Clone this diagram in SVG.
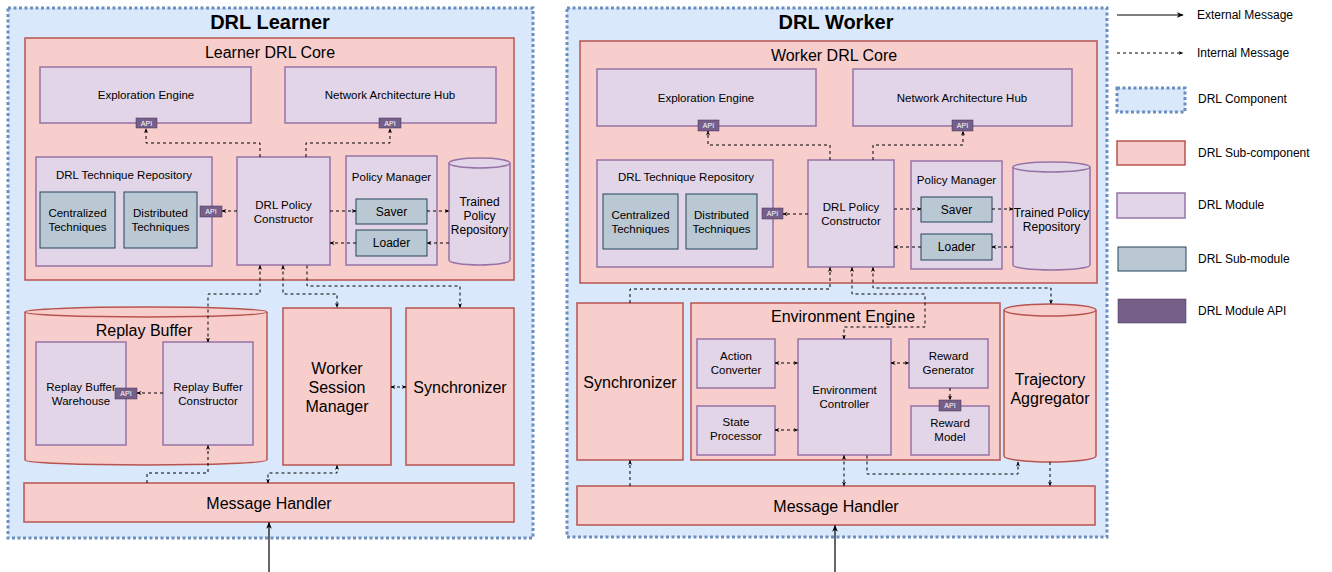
<svg xmlns="http://www.w3.org/2000/svg" width="1332" height="572" viewBox="0 0 1332 572">
<defs>
<style>
.comp{fill:#dae8fc;stroke:#6c8ebf;stroke-width:3;stroke-dasharray:3 2.5}
.sub{fill:#f8cecc;stroke:#b85450;stroke-width:1.5}
.mod{fill:#e1d5e7;stroke:#9673a6;stroke-width:1.5}
.smod{fill:#bac8d3;stroke:#23445d;stroke-width:1}
.api{fill:#76608a;stroke:#432d57;stroke-width:0.5}
text{font-family:"Liberation Sans",Arial,Helvetica,sans-serif;fill:#000;text-anchor:middle;dominant-baseline:central}
.h1{font-size:20px;font-weight:bold}
.h2{font-size:16px}
.m{font-size:11.5px}
.s{font-size:12px}
.at{font-size:7px;fill:#fff}
.lg{font-size:12px;text-anchor:start}
.int{fill:none;stroke:#000;stroke-width:1;stroke-dasharray:3 3;marker-end:url(#ah)}
.both{marker-start:url(#ah)}
.ext{fill:none;stroke:#000;stroke-width:1.2;marker-end:url(#ahx)}
</style>
<marker id="ah" viewBox="0 0 10 10" refX="9" refY="5" markerWidth="5" markerHeight="5" markerUnits="userSpaceOnUse" orient="auto-start-reverse"><path d="M0,1 L10,5 L0,9 L3,5 z" fill="#000"/></marker>
<marker id="ahx" viewBox="0 0 10 10" refX="9" refY="5" markerWidth="7" markerHeight="7" markerUnits="userSpaceOnUse" orient="auto"><path d="M0,1 L10,5 L0,9 L3,5 z" fill="#000"/></marker>
</defs>

<!-- ===== DRL Learner ===== -->
<g id="drl-learner">
<rect class="comp" x="8" y="8" width="525" height="530"/>
<text class="h1" x="270" y="22">DRL Learner</text>
</g>
<g id="learner-core">
<rect class="sub" x="25" y="38" width="489" height="242"/>
<text class="h2" x="270" y="52">Learner DRL Core</text>
</g>
<g id="l-exploration">
<rect class="mod" x="40" y="67" width="211" height="56"/>
<text class="m" x="146" y="95">Exploration Engine</text>
<rect class="api" x="136" y="118" width="21" height="10"/>
<text class="at" x="146.5" y="123">API</text>
</g>
<g id="l-nah">
<rect class="mod" x="285" y="67" width="211" height="56"/>
<text class="m" x="390" y="95">Network Architecture Hub</text>
<rect class="api" x="379" y="118" width="22" height="10"/>
<text class="at" x="390" y="123">API</text>
</g>
<g id="l-tech">
<rect class="mod" x="36" y="157" width="176" height="109"/>
<text class="m" x="124" y="175">DRL Technique Repository</text>
<rect class="smod" x="40" y="192" width="75" height="56"/>
<text class="m" x="77.5" y="213">Centralized</text>
<text class="m" x="77.5" y="227">Techniques</text>
<rect class="smod" x="124" y="192" width="73" height="56"/>
<text class="m" x="160.5" y="213">Distributed</text>
<text class="m" x="160.5" y="227">Techniques</text>
<rect class="api" x="200" y="206" width="22" height="11"/>
<text class="at" x="211" y="211.5">API</text>
</g>
<g id="l-constructor">
<rect class="mod" x="237" y="157" width="93" height="108"/>
<text class="m" x="283.5" y="205">DRL Policy</text>
<text class="m" x="283.5" y="219">Constructor</text>
</g>
<g id="l-policy-manager">
<rect class="mod" x="346" y="156" width="91" height="109"/>
<text class="m" x="391.5" y="177">Policy Manager</text>
<rect class="smod" x="356" y="199" width="71" height="25"/>
<text class="s" x="391.5" y="211.5">Saver</text>
<rect class="smod" x="356" y="230" width="71" height="26"/>
<text class="s" x="391.5" y="243">Loader</text>
</g>
<g id="l-trained">
<path class="mod" d="M449,163 A30.5,5 0 0 1 510,163 V260 A30.5,5 0 0 1 449,260 Z"/>
<path class="mod" style="fill:none" d="M449,163 A30.5,5 0 0 0 510,163"/>
<text class="s" x="479.5" y="202">Trained</text>
<text class="s" x="479.5" y="216">Policy</text>
<text class="s" x="479.5" y="230">Repository</text>
</g>
<g id="l-replay">
<path class="sub" d="M25,312 A121,5 0 0 1 267,312 V460 A121,5 0 0 1 25,460 Z"/>
<path class="sub" style="fill:none" d="M25,312 A121,5 0 0 0 267,312"/>
<text class="h2" x="144" y="330">Replay Buffer</text>
</g>
<g id="l-rb-warehouse">
<rect class="mod" x="36" y="342" width="90" height="103"/>
<text class="m" x="81" y="387">Replay Buffer</text>
<text class="m" x="81" y="401">Warehouse</text>
<rect class="api" x="115" y="388" width="22" height="11"/>
<text class="at" x="126" y="393.5">API</text>
</g>
<g id="l-rb-constructor">
<rect class="mod" x="163" y="342" width="90" height="103"/>
<text class="m" x="208" y="387">Replay Buffer</text>
<text class="m" x="208" y="401">Constructor</text>
</g>
<g id="l-wsm">
<rect class="sub" x="283" y="308" width="108" height="157"/>
<text class="h2" x="337" y="368">Worker</text>
<text class="h2" x="337" y="387">Session</text>
<text class="h2" x="337" y="406">Manager</text>
</g>
<g id="l-sync">
<rect class="sub" x="406" y="308" width="108" height="157"/>
<text class="h2" x="460" y="387">Synchronizer</text>
</g>
<g id="l-msg">
<rect class="sub" x="24" y="483" width="490" height="39"/>
<text class="h2" x="269" y="503">Message Handler</text>
</g>

<!-- ===== DRL Worker ===== -->
<g id="drl-worker">
<rect class="comp" x="567" y="8" width="540" height="529"/>
<text class="h1" x="836" y="22">DRL Worker</text>
</g>
<g id="worker-core">
<rect class="sub" x="580" y="41" width="517" height="242"/>
<text class="h2" x="834" y="55">Worker DRL Core</text>
</g>
<g id="w-exploration">
<rect class="mod" x="597" y="69" width="219" height="57"/>
<text class="m" x="706" y="98">Exploration Engine</text>
<rect class="api" x="698" y="120" width="21" height="11"/>
<text class="at" x="708.5" y="125.5">API</text>
</g>
<g id="w-nah">
<rect class="mod" x="853" y="69" width="219" height="57"/>
<text class="m" x="962" y="98">Network Architecture Hub</text>
<rect class="api" x="952" y="120" width="21" height="11"/>
<text class="at" x="962.5" y="125.5">API</text>
</g>
<g id="w-tech">
<rect class="mod" x="597" y="160" width="176" height="107"/>
<text class="m" x="686" y="177">DRL Technique Repository</text>
<rect class="smod" x="603" y="194" width="75" height="55"/>
<text class="m" x="640.5" y="215">Centralized</text>
<text class="m" x="640.5" y="229">Techniques</text>
<rect class="smod" x="686" y="194" width="71" height="55"/>
<text class="m" x="721.5" y="215">Distributed</text>
<text class="m" x="721.5" y="229">Techniques</text>
<rect class="api" x="762" y="208" width="21" height="11"/>
<text class="at" x="772.5" y="213.5">API</text>
</g>
<g id="w-constructor">
<rect class="mod" x="808" y="160" width="86" height="107"/>
<text class="m" x="851" y="207">DRL Policy</text>
<text class="m" x="851" y="221">Constructor</text>
</g>
<g id="w-policy-manager">
<rect class="mod" x="911" y="161" width="91" height="108"/>
<text class="m" x="956.5" y="180">Policy Manager</text>
<rect class="smod" x="921" y="197" width="71" height="25"/>
<text class="s" x="956.5" y="209.5">Saver</text>
<rect class="smod" x="921" y="234" width="71" height="26"/>
<text class="s" x="956.5" y="247">Loader</text>
</g>
<g id="w-trained">
<path class="mod" d="M1013,167 A38.5,5 0 0 1 1090,167 V265 A38.5,5 0 0 1 1013,265 Z"/>
<path class="mod" style="fill:none" d="M1013,167 A38.5,5 0 0 0 1090,167"/>
<text class="s" x="1051.5" y="213">Trained Policy</text>
<text class="s" x="1051.5" y="227">Repository</text>
</g>
<g id="w-sync">
<rect class="sub" x="577" y="303" width="106" height="157"/>
<text class="h2" x="630" y="382">Synchronizer</text>
</g>
<g id="w-env-engine">
<rect class="sub" x="691" y="303" width="309" height="157"/>
<text class="h2" x="843" y="316">Environment Engine</text>
</g>
<g id="w-action">
<rect class="mod" x="697" y="339" width="78" height="49"/>
<text class="m" x="736" y="356">Action</text>
<text class="m" x="736" y="370">Converter</text>
</g>
<g id="w-state">
<rect class="mod" x="697" y="406" width="78" height="49"/>
<text class="m" x="736" y="422">State</text>
<text class="m" x="736" y="436">Processor</text>
</g>
<g id="w-env-controller">
<rect class="mod" x="798" y="339" width="93" height="116"/>
<text class="m" x="844.5" y="390">Environment</text>
<text class="m" x="844.5" y="404">Controller</text>
</g>
<g id="w-reward-gen">
<rect class="mod" x="909" y="339" width="79" height="49"/>
<text class="m" x="948.5" y="356">Reward</text>
<text class="m" x="948.5" y="370">Generator</text>
</g>
<g id="w-reward-model">
<rect class="mod" x="911" y="406" width="78" height="49"/>
<text class="m" x="950" y="423">Reward</text>
<text class="m" x="950" y="437">Model</text>
<rect class="api" x="939" y="400" width="22" height="11"/>
<text class="at" x="950" y="405.5">API</text>
</g>
<g id="w-trajectory">
<path class="sub" d="M1004,310 A46,6 0 0 1 1096,310 V456 A46,6 0 0 1 1004,456 Z"/>
<path class="sub" style="fill:none" d="M1004,310 A46,6 0 0 0 1096,310"/>
<text class="h2" x="1050" y="379">Trajectory</text>
<text class="h2" x="1050" y="398">Aggregator</text>
</g>
<g id="w-msg">
<rect class="sub" x="577" y="486" width="518" height="39"/>
<text class="h2" x="836" y="506">Message Handler</text>
</g>

<!-- ===== Connectors ===== -->
<g id="connectors">
<path class="int" d="M260,157 V143 H146 V128.5"/>
<path class="int" d="M306,157 V143 H390 V128.5"/>
<path class="int" d="M237,211 H222"/>
<path class="int" d="M330,211 H356"/>
<path class="int" d="M427,211 H449"/>
<path class="int" d="M449,243 H427"/>
<path class="int" d="M356,243 H330"/>
<path class="int both" d="M260,265.5 V294 H208 V342"/>
<path class="int both" d="M283,265.5 V294 H337 V307.5"/>
<path class="int" d="M307,265.5 V286 H460 V307.5"/>
<path class="int" d="M163,393 H137"/>
<path class="int both" d="M391,387 H406"/>
<path class="int" d="M147,483 V473 H208 V445.5"/>
<path class="int both" d="M337,465.5 V473 H268 V483"/>
<path class="ext" d="M269,572 V522.5"/>

<path class="int" d="M830,160 V145 H708 V131"/>
<path class="int" d="M873,160 V145 H963 V131"/>
<path class="int" d="M808,214 H783"/>
<path class="int" d="M894,209 H921"/>
<path class="int" d="M992,209 H1013"/>
<path class="int" d="M1013,247 H992"/>
<path class="int" d="M921,247 H894"/>
<path class="int" d="M630,303 V289 H830 V267.5"/>
<path class="int both" d="M852,267.5 V294 H925 V327 H844 V339"/>
<path class="int both" d="M873,267.5 V288 H1051 V304"/>
<path class="int both" d="M775,363 H798"/>
<path class="int both" d="M775,430 H798"/>
<path class="int both" d="M891,363 H909"/>
<path class="int" d="M950,388 V400"/>
<path class="int" d="M630,486 V460.5"/>
<path class="int both" d="M844,455.5 V486"/>
<path class="int" d="M867,455.5 V474 H1018 V462"/>
<path class="int" d="M1050,462 V486"/>
<path class="ext" d="M835,572 V525.5"/>
</g>

<!-- ===== Legend ===== -->
<g id="legend">
<path class="ext" d="M1117,15 H1183"/>
<text class="lg" x="1197" y="15">External Message</text>
<path class="int" d="M1117,53 H1183"/>
<text class="lg" x="1197" y="53">Internal Message</text>
<rect class="comp" x="1117" y="88" width="68" height="24"/>
<text class="lg" x="1198" y="99">DRL Component</text>
<rect class="sub" x="1117" y="141" width="68" height="24"/>
<text class="lg" x="1198" y="153">DRL Sub-component</text>
<rect class="mod" x="1117" y="193" width="68" height="25"/>
<text class="lg" x="1198" y="205">DRL Module</text>
<rect class="smod" x="1118" y="247" width="68" height="24"/>
<text class="lg" x="1198" y="259">DRL Sub-module</text>
<rect class="api" x="1118" y="299" width="68" height="24"/>
<text class="lg" x="1198" y="311">DRL Module API</text>
</g>
</svg>
